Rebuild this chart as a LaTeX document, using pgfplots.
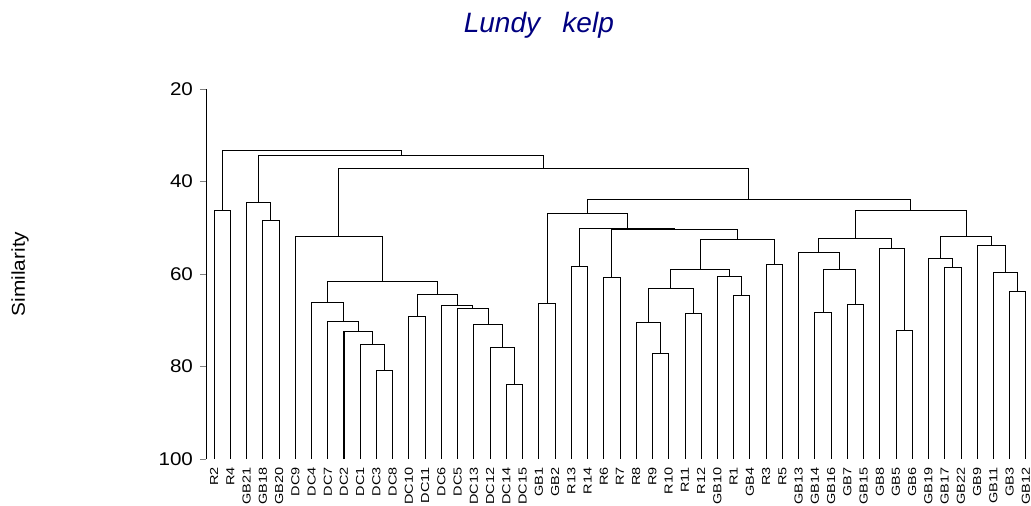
\documentclass[border=0pt]{standalone}
\usepackage{pgfplots}
\pgfplotsset{compat=1.18}
\usepackage{fontspec}
\setmainfont{Liberation Sans}
\newfontfamily\tickfont[FakeStretch=1.12]{Liberation Sans}
\newfontfamily\leaffont[FakeStretch=1.25]{Liberation Sans}
\definecolor{titleblue}{RGB}{0,0,128}

\begin{document}
\begin{tikzpicture}[x=1pt,y=1pt]
\begin{axis}[
    at={(0,0)}, anchor=south west,
    scale only axis, width=414pt, height=185pt,
    xmin=-0.5, xmax=50.5, ymin=20, ymax=100, y dir=reverse,
    axis y line=left, axis x line=bottom,
    axis line style={-}, x axis line style={draw=none},
    tick align=outside, major tick length=3pt,
    ytick={20,40,60,80,100},
    /pgf/number format/assume math mode=true,
    y tick label style={font=\tickfont\fontsize{9.2}{10}\selectfont},
    xtick={0,...,50},
    xticklabels={R2,R4,GB21,GB18,GB20,DC9,DC4,DC7,DC2,DC1,DC3,DC8,DC10,DC11,DC6,DC5,DC13,DC12,DC14,DC15,GB1,GB2,R13,R14,R6,R7,R8,R9,R10,R11,R12,GB10,R1,GB4,R3,R5,GB13,GB14,GB16,GB7,GB15,GB8,GB5,GB6,GB19,GB17,GB22,GB9,GB11,GB3,GB12},
    x tick style={draw=none},
    x tick label style={rotate=90, anchor=east, inner sep=1pt, font=\leaffont\fontsize{5.8}{6.5}\selectfont},
    every axis title shift=0pt,
    title={\itshape Lundy\hspace{0.8em}kelp},
    title style={at={(axis description cs:0.402,1.154)}, anchor=base, font=\fontsize{14}{16}\selectfont, color=titleblue},
    ylabel={Similarity},
    ylabel style={at={(axis description cs:-0.2246,0.5)}, anchor=center, font=\tickfont\fontsize{9.3}{10}\selectfont},
    clip=false, no markers,
    cycle list={{black, solid, line width=0.55pt}},
]
% leaf-level merges, each drawn as a U from child heights to merge height
\addplot coordinates {(0,100)(0,46.2)(1,46.2)(1,100)};
\addplot coordinates {(3,100)(3,48.5)(4,48.5)(4,100)};
\addplot coordinates {(2,100)(2,44.5)(3.5,44.5)(3.5,48.5)};
\addplot coordinates {(10,100)(10,80.8)(11,80.8)(11,100)};
\addplot coordinates {(9,100)(9,75.3)(10.5,75.3)(10.5,80.8)};
\addplot coordinates {(8,100)(8,72.5)(9.75,72.5)(9.75,75.3)};
\addplot coordinates {(7,100)(7,70.2)(8.875,70.2)(8.875,72.5)};
\addplot coordinates {(6,100)(6,66.1)(7.9375,66.1)(7.9375,70.2)};
\addplot coordinates {(12,100)(12,69.2)(13,69.2)(13,100)};
\addplot coordinates {(18,100)(18,83.8)(19,83.8)(19,100)};
\addplot coordinates {(17,100)(17,75.8)(18.5,75.8)(18.5,83.8)};
\addplot coordinates {(16,100)(16,71.0)(17.75,71.0)(17.75,75.8)};
\addplot coordinates {(15,100)(15,67.5)(16.875,67.5)(16.875,71.0)};
\addplot coordinates {(14,100)(14,66.8)(15.9375,66.8)(15.9375,67.5)};
\addplot coordinates {(12.5,69.2)(12.5,64.5)(14.96875,64.5)(14.96875,66.8)};
\addplot coordinates {(6.96875,66.1)(6.96875,61.7)(13.734375,61.7)(13.734375,64.5)};
\addplot coordinates {(5,100)(5,51.8)(10.3515625,51.8)(10.3515625,61.7)};
\addplot coordinates {(20,100)(20,66.3)(21,66.3)(21,100)};
\addplot coordinates {(22,100)(22,58.4)(23,58.4)(23,100)};
\addplot coordinates {(24,100)(24,60.8)(25,60.8)(25,100)};
\addplot coordinates {(27,100)(27,77.2)(28,77.2)(28,100)};
\addplot coordinates {(26,100)(26,70.5)(27.5,70.5)(27.5,77.2)};
\addplot coordinates {(29,100)(29,68.6)(30,68.6)(30,100)};
\addplot coordinates {(26.75,70.5)(26.75,63.1)(29.5,63.1)(29.5,68.6)};
\addplot coordinates {(32,100)(32,64.6)(33,64.6)(33,100)};
\addplot coordinates {(31,100)(31,60.6)(32.5,60.6)(32.5,64.6)};
\addplot coordinates {(28.125,63.1)(28.125,59.1)(31.75,59.1)(31.75,60.6)};
\addplot coordinates {(34,100)(34,58.0)(35,58.0)(35,100)};
\addplot coordinates {(29.9375,59.1)(29.9375,52.5)(34.5,52.5)(34.5,58.0)};
\addplot coordinates {(24.5,60.8)(24.5,50.3)(32.21875,50.3)(32.21875,52.5)};
\addplot coordinates {(22.5,58.4)(22.5,50.1)(28.359375,50.1)(28.359375,50.3)};
\addplot coordinates {(20.5,66.3)(20.5,46.9)(25.4296875,46.9)(25.4296875,50.1)};
\addplot coordinates {(37,100)(37,68.4)(38,68.4)(38,100)};
\addplot coordinates {(39,100)(39,66.6)(40,66.6)(40,100)};
\addplot coordinates {(37.5,68.4)(37.5,59.0)(39.5,59.0)(39.5,66.6)};
\addplot coordinates {(36,100)(36,55.3)(38.5,55.3)(38.5,59.0)};
\addplot coordinates {(42,100)(42,72.1)(43,72.1)(43,100)};
\addplot coordinates {(41,100)(41,54.4)(42.5,54.4)(42.5,72.1)};
\addplot coordinates {(37.25,55.3)(37.25,52.4)(41.75,52.4)(41.75,54.4)};
\addplot coordinates {(45,100)(45,58.5)(46,58.5)(46,100)};
\addplot coordinates {(44,100)(44,56.6)(45.5,56.6)(45.5,58.5)};
\addplot coordinates {(49,100)(49,63.8)(50,63.8)(50,100)};
\addplot coordinates {(48,100)(48,59.7)(49.5,59.7)(49.5,63.8)};
\addplot coordinates {(47,100)(47,53.9)(48.75,53.9)(48.75,59.7)};
\addplot coordinates {(44.75,56.6)(44.75,51.8)(47.875,51.8)(47.875,53.9)};
\addplot coordinates {(39.5,52.4)(39.5,46.3)(46.3125,46.3)(46.3125,51.8)};
% upper merges
\addplot coordinates {(22.96484375,46.9)(22.96484375,43.9)(42.90625,43.9)(42.90625,46.3)};
\addplot coordinates {(7.67578125,51.8)(7.67578125,37.2)(32.935546875,37.2)(32.935546875,43.9)};
\addplot coordinates {(2.75,44.5)(2.75,34.4)(20.3056640625,34.4)(20.3056640625,37.2)};
\addplot coordinates {(0.5,46.2)(0.5,33.2)(11.52783203125,33.2)(11.52783203125,34.4)};
\end{axis}
\pgfresetboundingbox
\useasboundingbox (-103pt,-23pt) rectangle (412.5pt,229.5pt);
\end{tikzpicture}
\end{document}
